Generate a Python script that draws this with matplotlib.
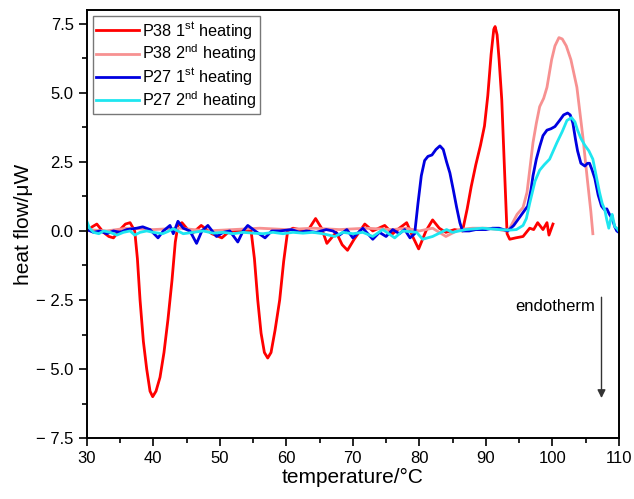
import matplotlib
matplotlib.use("Agg")
import matplotlib.pyplot as plt
from matplotlib.ticker import MultipleLocator

plt.rcParams['font.family'] = ['Liberation Sans', 'DejaVu Sans']
plt.rcParams['mathtext.fontset'] = 'custom'
plt.rcParams['mathtext.rm'] = 'Liberation Sans'

# P38 1st heating
p38_1_x = [30, 30.8, 31.5, 32.5, 33.3, 34.0, 35.0, 35.8, 36.5, 37.2, 37.6, 38.0, 38.5, 39.0,
           39.5, 39.9, 40.4, 41.0, 41.6, 42.2, 42.8, 43.3, 43.7, 44.3, 45.0, 45.8, 47.2, 48.8,
           50.3, 51.5, 53.0, 54.2, 54.7, 55.2, 55.7, 56.2, 56.7, 57.2, 57.7, 58.3, 59.0, 59.6,
           60.2, 61.0, 62.0, 63.2, 64.4, 65.3, 66.1, 67.5, 68.4, 69.2, 70.2, 71.8, 73.0, 74.8,
           76.0, 77.0, 78.1, 79.0, 79.9, 81.0, 82.0, 83.0, 84.0, 85.3, 86.5, 87.2, 87.8, 88.5,
           89.2, 89.8, 90.3, 90.8, 91.2, 91.4, 91.7, 92.0, 92.4, 92.8, 93.2, 93.6, 94.5, 95.6,
           96.6, 97.2, 97.8, 98.6, 99.2, 99.5, 100.1]
p38_1_y = [0.0, 0.15, 0.25, -0.05, -0.2, -0.25, 0.05, 0.25, 0.3, 0.0, -1.0, -2.5, -4.0, -5.0,
           -5.8, -6.0, -5.8, -5.3, -4.4, -3.2, -1.8, -0.4, 0.2, 0.3, 0.1, -0.1, 0.2, -0.1,
           -0.25, 0.0, 0.0, 0.0, 0.0, -1.0, -2.5, -3.7, -4.4, -4.6, -4.4, -3.6, -2.5, -1.1,
           0.0, 0.1, 0.05, 0.0, 0.45, 0.1, -0.45, -0.05, -0.5, -0.7, -0.3, 0.25, 0.0, 0.2,
           -0.1, 0.1, 0.3, -0.2, -0.65, 0.0, 0.4, 0.1, -0.05, 0.05, 0.0, 0.8, 1.6, 2.4,
           3.1, 3.8, 4.9, 6.4, 7.3, 7.4, 7.1, 6.2, 4.75, 2.3, -0.1, -0.3, -0.25, -0.2,
           0.1, 0.05, 0.3, 0.05, 0.3, -0.15, 0.25]

# P38 2nd heating
p38_2_x = [30, 33, 36, 40, 44, 48, 52, 56, 60, 64, 68, 72, 76, 78, 80, 82, 84, 86, 88, 90,
           92, 93.0, 93.6, 94.7, 95.6, 96.2, 96.7, 97.1, 97.6, 98.1, 98.7, 99.2, 99.9, 100.4,
           101.0, 101.5, 102.1, 102.8, 103.7, 104.6, 105.3, 105.8, 106.1]
p38_2_y = [0.05, 0.0, 0.1, 0.05, 0.1, 0.0, 0.05, 0.1, 0.05, 0.1, 0.05, 0.1, 0.05, 0.1, 0.0,
           0.1, -0.2, 0.05, 0.1, 0.1, 0.05, 0.0, 0.1, 0.6, 0.85, 1.4, 2.4, 3.2, 3.9, 4.5,
           4.8, 5.2, 6.2, 6.7, 7.0, 6.95, 6.7, 6.2, 5.2, 3.4, 1.8, 0.7, -0.1]

# P27 1st heating
p27_1_x = [30, 31, 32, 33, 34, 35, 36, 37.5, 38.4, 39.5, 40.7, 41.5, 42.5, 43.0, 43.7, 44.5,
           45.5, 46.5, 47.3, 48.2, 49.5, 50.5, 51.5, 52.7, 53.5, 54.2, 55.3, 56.8, 57.8, 59.0,
           60.8, 62.0, 63.0, 64.5, 66.0, 67.0, 68.0, 69.1, 70.0, 71.5, 73.0, 74.0, 75.0, 76.0,
           77.0, 77.8, 78.6, 79.3, 79.8, 80.3, 80.8, 81.3, 81.9, 82.5, 83.1, 83.6, 84.1, 84.6,
           85.1, 85.6, 86.1, 86.5, 87.5, 88.5, 90.0, 91.0, 92.0, 93.3, 94.2, 95.1, 95.7, 96.3,
           96.8, 97.1, 97.6, 98.1, 98.6, 99.2, 99.8, 100.4, 101.1, 101.7, 102.3, 102.7, 103.1,
           103.5, 103.8, 104.3, 104.9, 105.3, 105.6, 106.0, 106.4, 106.9, 107.4, 107.8, 108.2,
           108.6, 109.0, 109.4, 109.7, 110.0]
p27_1_y = [0.05, -0.05, 0.0, -0.1, 0.0, -0.05, 0.05, 0.1, 0.15, 0.05, -0.25, 0.0, 0.2, -0.1,
           0.35, 0.1, 0.0, -0.45, 0.0, 0.2, -0.2, -0.05, 0.0, -0.4, 0.0, 0.2, 0.0, -0.25, 0.0,
           0.0, 0.05, -0.05, 0.0, -0.05, 0.05, 0.0, -0.15, 0.05, -0.25, 0.1, -0.3, -0.05, -0.2,
           0.05, -0.1, 0.05, -0.25, -0.1, 1.0, 2.0, 2.55, 2.7, 2.75, 2.95, 3.08, 2.95, 2.5,
           2.1, 1.5, 0.87, 0.3, 0.0, 0.0, 0.05, 0.05, 0.1, 0.1, 0.0, 0.2, 0.5, 0.7, 0.9, 1.5,
           2.0, 2.6, 3.05, 3.45, 3.65, 3.7, 3.78, 4.0, 4.2, 4.27, 4.2, 3.9, 3.3, 2.9, 2.45,
           2.35, 2.45, 2.45, 2.2, 1.9, 1.3, 0.9, 0.78, 0.8, 0.6, 0.45, 0.15, 0.0, -0.05]

# P27 2nd heating
p27_2_x = [30, 30.4, 31.0, 31.8, 32.5, 33.5, 34.5, 35.5, 36.5, 37.2, 38.0, 39.0, 40.0, 41.4,
           42.2, 43.0, 44.5, 46.0, 47.5, 49.0, 50.5, 52.0, 53.5, 55.0, 56.5, 58.0, 59.5, 61.0,
           62.5, 64.0, 65.5, 67.3, 68.5, 70.0, 71.5, 73.0, 74.5, 76.3, 77.5, 79.6, 80.5, 82.0,
           84.1, 85.0, 87.0, 89.5, 92.0, 93.6, 94.6, 95.6, 96.1, 96.6, 97.4, 98.1, 98.8, 99.6,
           100.7, 101.5, 102.2, 102.9, 103.4, 103.8, 104.3, 104.9, 105.5, 106.1, 106.6, 107.1,
           107.5, 107.9, 108.2, 108.5, 108.8, 109.0, 109.4, 109.7, 110.0]
p27_2_y = [0.35, 0.1, -0.05, -0.1, 0.0, -0.05, -0.15, -0.05, 0.0, -0.15, -0.05, 0.0, -0.05,
           -0.1, -0.02, 0.08, -0.1, -0.05, 0.0, -0.08, -0.05, -0.1, -0.05, -0.08, -0.1, -0.05,
           -0.1, -0.05, -0.08, -0.05, -0.1, -0.2, -0.05, -0.1, -0.05, -0.2, 0.05, -0.25, 0.0,
           -0.05, -0.3, -0.2, 0.05, -0.05, 0.05, 0.1, 0.05, 0.03, 0.05, 0.2, 0.45, 1.0, 1.8,
           2.2, 2.4, 2.6, 3.2, 3.6, 4.0, 4.1, 3.95, 3.65, 3.35, 3.1, 2.9, 2.6, 2.0, 1.4, 1.0,
           0.76, 0.4, 0.1, 0.45, 0.6, 0.15, 0.1, 0.0]

fig = plt.figure(figsize=(6.34, 4.99), dpi=100)
ax = fig.add_axes([0.137, 0.122, 0.839, 0.858])

lw = 2.0
ax.plot(p38_1_x, p38_1_y, color='#ff0000', lw=lw, label=r'P38 1$^{\rm st}$ heating')
ax.plot(p38_2_x, p38_2_y, color='#f79191', lw=lw, label=r'P38 2$^{\rm nd}$ heating')
ax.plot(p27_1_x, p27_1_y, color='#0000e0', lw=lw, label=r'P27 1$^{\rm st}$ heating')
ax.plot(p27_2_x, p27_2_y, color='#1ee6f0', lw=lw, label=r'P27 2$^{\rm nd}$ heating')

ax.set_xlim(30, 110)
ax.set_ylim(-7.5, 8.0)
ax.xaxis.set_major_locator(MultipleLocator(10))
ax.xaxis.set_minor_locator(MultipleLocator(5))
ax.set_yticks([-7.5, -5.0, -2.5, 0.0, 2.5, 5.0, 7.5])
ax.set_yticklabels(['\u2212 7.5', '\u2212 5.0', '\u2212 2.5', '0.0', '2.5', '5.0', '7.5'])
ax.yaxis.set_minor_locator(MultipleLocator(1.25))
ax.tick_params(which='both', direction='out', labelsize=12, width=1.2, top=False, right=False)
ax.tick_params(which='major', length=6)
ax.tick_params(which='minor', length=3.5)
for s in ax.spines.values():
    s.set_linewidth(1.4)

ax.set_xlabel('temperature/°C', fontsize=15, labelpad=1)
ax.set_ylabel('heat flow/μW', fontsize=15, labelpad=2)

leg = ax.legend(loc='upper left', bbox_to_anchor=(0.012, 0.985), borderaxespad=0,
                fontsize=11.7, fancybox=False, edgecolor='#777777', framealpha=1,
                handlelength=2.6, handletextpad=0.2, labelspacing=0.12, borderpad=0.2)
leg.get_frame().set_linewidth(1.0)

ax.annotate('', xy=(107.4, -6.15), xytext=(107.4, -2.3),
            arrowprops=dict(arrowstyle='-|>', color='#333333', lw=1.0, mutation_scale=12))
ax.text(106.4, -2.75, 'endotherm', ha='right', va='center', fontsize=12)

fig.savefig('out.png', dpi=100)
